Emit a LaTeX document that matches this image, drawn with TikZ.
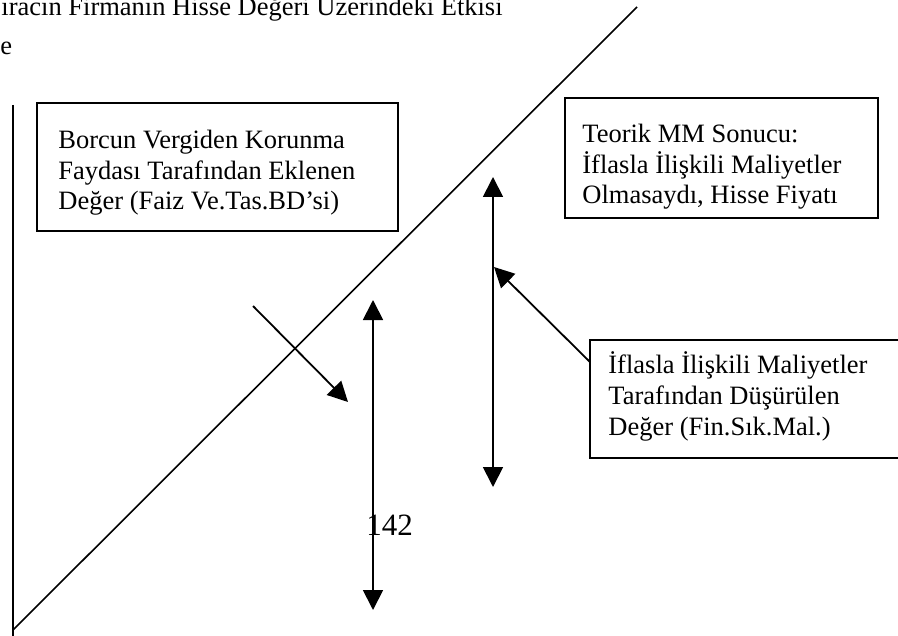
\documentclass[tikz,border=0pt]{standalone}
\usepackage{fontspec}
\setmainfont{Liberation Serif}
\usetikzlibrary{arrows.meta}
\tikzset{
  txt/.style={inner sep=0pt, align=left, anchor=base west,
    font=\fontsize{13.25}{15.3}\selectfont},
  boxframe/.style={draw, line width=1.2pt, inner sep=0pt},
  axisline/.style={line width=1pt},
  arr/.style={line width=0.9pt, -{Triangle[width=10pt,length=10pt]}},
  darr/.style={line width=0.9pt, {Triangle[width=10pt,length=10pt]}-{Triangle[width=10pt,length=10pt]}}
}
\begin{document}
\begin{tikzpicture}[x=0.5pt,y=-0.5pt]
\useasboundingbox (0,0) rectangle (898,636);
\clip (0,0) rectangle (898,636);
\fill[white] (0,0) rectangle (898,636);
% title fragments
\node[txt, anchor=base east] (title) at (503,16) {ıracın Firmanın Hisse Değeri Üzerindeki Etkisi};
\node[txt] (title2) at (0,55) {e};
% axes
\coordinate (axtop) at (13,105);
\coordinate (axbot) at (13,640);
\coordinate (dgbot) at (13,630);
\coordinate (dgtop) at (637,7);
\draw[axisline] (axtop) -- (axbot);
\draw[line width=0.8pt] (dgbot) -- (dgtop);
% boxes (text anchored at the baseline of the last line)
\draw[boxframe] (37,103) rectangle (398,231);
\node[txt] (b1) at (58,210) {Borcun Vergiden Korunma\\Faydası Tarafından Eklenen\\Değer (Faiz Ve.Tas.BD’si)};
\draw[boxframe] (565,98) rectangle (878,218);
\node[txt] (b2) at (582,204) {Teorik MM Sonucu:\\İflasla İlişkili Maliyetler\\Olmasaydı, Hisse Fiyatı};
\draw[boxframe] (590,340) rectangle (920,458);
\node[txt] (b3) at (608,435) {İflasla İlişkili Maliyetler\\Tarafından Düşürülen\\Değer (Fin.Sık.Mal.)};
% arrows
\coordinate (a1s) at (253,306);
\coordinate (a1e) at (348,402);
\draw[arr] (a1s) -- (a1e);
\coordinate (d1t) at (373,300);
\coordinate (d1b) at (373,610);
\draw[darr] (d1t) -- (d1b);
\coordinate (d2t) at (493,177);
\coordinate (d2b) at (493,487);
\draw[darr] (d2t) -- (d2b);
\coordinate (a3s) at (590,362);
\coordinate (a3e) at (494,267);
\draw[arr] (a3s) -- (a3e);
\node[inner sep=0pt, anchor=base west, font=\fontsize{15.5}{18}\selectfont] (pg) at (366,535) {142};
\end{tikzpicture}
\end{document}
